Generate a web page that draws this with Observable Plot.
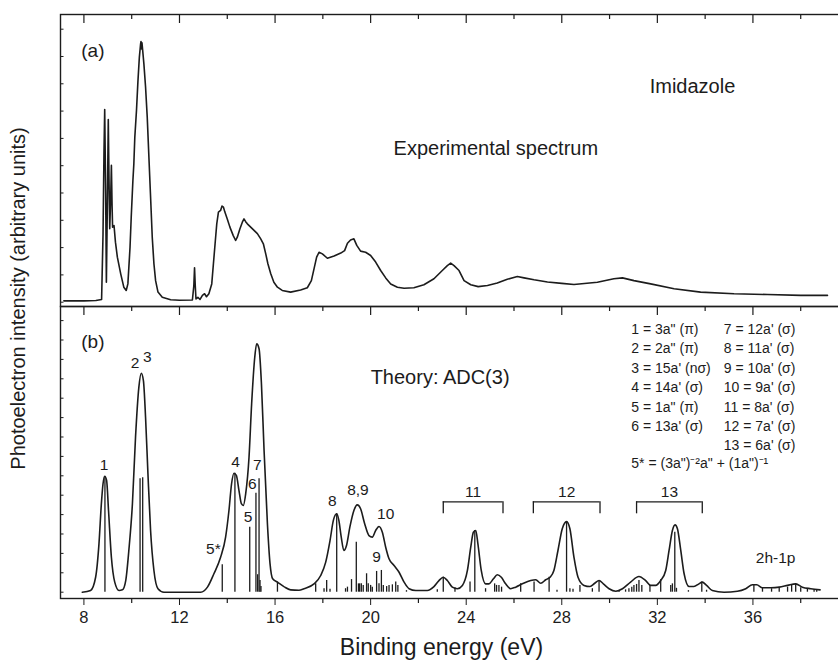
<!DOCTYPE html>
<html><head><meta charset="utf-8">
<script src="https://cdn.jsdelivr.net/npm/d3@7"></script>
<script src="https://cdn.jsdelivr.net/npm/@observablehq/plot@0.6"></script>
<style>
html,body{margin:0;padding:0;background:#fff;overflow:hidden;}
#chart{position:relative;width:838px;height:662px;overflow:hidden;background:#fff;}
#chart svg{display:block;overflow:visible;max-width:none;}
</style></head><body><div id="chart"></div>
<script>
// ---------- data (binding energy in eV, intensities in arbitrary units) ----------
const expE = [7.16,8.0,8.5,8.74,8.8,8.84,8.87,8.91,8.94,8.98,9.02,9.05,9.08,9.12,9.15,9.18,9.2,9.26,9.32,9.40,9.54,9.67,9.77,9.84,9.93,9.98,10.05,10.09,10.13,10.2,10.26,10.32,10.37,10.39,10.41,10.43,10.46,10.51,10.58,10.65,10.72,10.79,10.86,10.93,11.0,11.1,11.28,11.63,12.0,12.54,12.6,12.63,12.66,12.69,12.77,12.86,12.96,13.05,13.13,13.23,13.35,13.42,13.49,13.56,13.63,13.72,13.78,13.84,13.9,14.0,14.11,14.25,14.35,14.42,14.53,14.63,14.7,14.77,14.84,14.98,15.12,15.26,15.4,15.51,15.61,15.7,15.82,15.95,16.1,16.3,16.65,17.07,17.35,17.52,17.63,17.74,17.84,17.98,18.19,18.47,18.75,18.91,19.03,19.16,19.3,19.42,19.58,19.79,20.0,20.21,20.42,20.63,20.84,21.12,21.4,21.81,22.23,22.65,23.0,23.21,23.35,23.49,23.7,23.91,24.19,24.5,24.89,25.3,25.72,26.14,26.42,26.84,27.4,28.0,28.51,29.49,30.18,30.54,31.02,31.72,32.7,33.81,35.21,36.61,38.0,39.12];
const expI = [0.05,0.05,0.06,0.1,2.5,5.5,7.06,4.0,0.73,3.5,6.69,4.5,2.69,3.8,5.01,3.5,2.75,2.81,2.2,1.65,1.04,0.55,0.43,0.67,2.01,3.11,4.46,5.07,6.04,7.02,8.08,8.97,9.44,9.55,9.28,9.5,9.22,8.73,7.88,6.78,5.31,3.85,2.38,1.41,0.79,0.37,0.18,0.09,0.07,0.08,0.6,1.26,0.6,0.12,0.18,0.1,0.25,0.31,0.2,0.31,0.67,1.41,2.14,2.87,3.30,3.36,3.52,3.48,3.3,3.05,2.75,2.44,2.26,2.38,2.69,2.93,3.05,2.95,2.87,2.75,2.63,2.51,2.32,2.14,1.77,1.41,1.04,0.73,0.55,0.43,0.37,0.45,0.53,0.79,1.22,1.65,1.83,1.77,1.61,1.69,1.8,1.89,2.16,2.28,2.32,2.08,1.87,1.83,1.71,1.47,1.16,0.89,0.67,0.55,0.51,0.53,0.64,0.86,1.16,1.34,1.43,1.34,1.16,0.79,0.64,0.57,0.61,0.7,0.84,0.94,0.89,0.82,0.74,0.69,0.65,0.73,0.86,0.89,0.79,0.67,0.49,0.37,0.31,0.28,0.25,0.25];

const thE = [7.93,8.28,8.49,8.63,8.73,8.8,8.87,8.95,9.03,9.15,9.29,9.47,9.61,9.75,9.88,10.03,10.16,10.3,10.4,10.49,10.58,10.68,10.79,10.93,11.1,11.35,12.89,13.17,13.44,13.72,13.93,14.07,14.18,14.28,14.38,14.49,14.59,14.67,14.77,14.91,15.02,15.15,15.23,15.33,15.43,15.54,15.68,15.79,15.9,16.1,16.37,16.65,17.0,17.21,17.63,17.91,18.12,18.3,18.44,18.58,18.67,18.77,18.88,18.99,19.13,19.3,19.44,19.58,19.75,19.93,20.07,20.21,20.35,20.49,20.63,20.77,20.98,21.19,21.4,21.61,21.89,22.37,22.65,22.86,23.04,23.21,23.42,23.63,23.84,24.05,24.19,24.3,24.4,24.49,24.63,24.81,24.95,25.14,25.3,25.47,25.65,25.86,26.07,26.35,26.7,26.91,27.12,27.33,27.51,27.67,27.84,28.02,28.2,28.34,28.51,28.68,28.93,29.18,29.38,29.56,29.74,29.98,30.26,30.54,30.88,31.23,31.51,31.72,31.93,32.14,32.35,32.49,32.63,32.74,32.84,32.98,33.12,33.33,33.53,33.74,33.88,34.06,34.3,34.79,35.35,35.7,35.98,36.16,36.4,36.75,37.1,37.45,37.79,38.07,38.42,38.81];
const thI = [0,0.09,0.77,2.49,4.55,5.59,5.98,5.76,4.21,1.8,0.52,0.09,0.12,0.6,2.15,4.56,7.99,10.57,11.29,10.91,9.02,6.1,3.18,1.12,0.18,0,0,0.26,0.95,1.8,2.84,4.21,5.59,6.13,6.02,5.24,4.56,4.47,5.07,6.96,9.71,12.11,12.8,12.55,10.74,7.3,3.53,1.46,0.69,0.52,0.29,0.12,0.1,0.18,0.43,0.86,1.55,2.66,3.7,4.04,3.7,2.84,2.15,2.41,3.35,4.21,4.5,4.3,3.53,2.92,2.84,3.18,3.39,3.09,2.32,1.72,1.38,1.03,0.52,0.18,0.09,0.09,0.29,0.6,0.77,0.6,0.26,0.18,0.35,1.12,2.32,3.09,3.18,2.49,1.12,0.43,0.43,0.69,0.9,0.77,0.43,0.18,0.26,0.43,0.6,0.64,0.46,0.64,0.77,1.12,2.15,3.27,3.64,3.27,1.8,0.77,0.35,0.29,0.46,0.6,0.43,0.18,0.05,0.18,0.52,0.81,0.6,0.35,0.35,0.6,1.12,2.15,3.18,3.47,3.27,2.15,0.95,0.29,0.29,0.43,0.52,0.35,0.09,0,0.05,0.18,0.38,0.38,0.23,0.23,0.26,0.35,0.43,0.26,0.18,0.12];

const stickE = [8.88,10.35,10.46,13.79,14.32,14.94,15.2,15.27,15.33,15.37,15.41,16.1,17.7,18.05,18.16,18.3,18.58,18.95,19.03,19.2,19.4,19.49,19.54,19.61,19.69,19.83,19.9,20.0,20.07,20.25,20.35,20.45,20.53,20.67,20.77,20.91,21.05,21.14,21.5,22.79,23.04,23.53,24.16,24.36,24.81,25.19,25.27,25.37,25.48,26.28,26.84,27.47,27.8,28.2,28.34,28.47,28.76,29.28,29.56,30.4,30.67,30.81,30.93,31.02,31.13,31.23,31.35,31.69,32.14,32.56,32.63,32.73,32.8,33.3,33.86,34.06,36.04,36.4,36.78,37.1,37.45,37.62,37.79,38.0,38.28,38.56,38.67];
const stickH = [5.95,5.85,5.9,1.41,6.13,3.35,5.1,0.9,5.85,0.6,0.3,0.52,0.43,0.18,0.6,0.15,4.04,0.18,0.26,0.65,2.58,0.43,0.43,0.43,0.35,0.95,0.43,0.35,0.26,1.07,0.43,1.12,0.35,0.29,0.35,0.38,0.52,0.35,0.08,0.12,0.77,0.23,0.52,3.18,0.18,0.43,0.35,0.35,0.26,0.43,0.52,0.77,0.1,3.64,0.18,0.15,0.35,0.18,0.6,0.08,0.12,0.18,0.26,0.35,0.4,0.6,0.35,0.35,0.64,0.35,0.43,3.09,0.2,0.08,0.52,0.1,0.35,0.23,0.18,0.23,0.26,0.35,0.43,0.23,0.18,0.12,0.12];

const majorTicks = [8,12,16,20,24,28,32,36];
const minorTicks = [10,14,18,22,26,30,34,38];
const yTicksA = [0,1,2,3,4,5,6,7,8,9,10];
const yTicksB = [0,1,2,3,4,5,6,7,8,9,10,11,12,13,14];

// peak assignments in panel (b)
const peakText = ["1","2","3","4","5","6","7","5*","8","8,9","10","9","2h-1p"];
const peakE    = [8.84,10.14,10.65,14.35,14.87,15.05,15.26,13.42,18.4,19.47,20.63,20.25,36.95];
const peakY    = [6.58,11.82,12.11,6.7,3.87,5.59,6.58,2.24,4.68,5.29,4.04,1.8,1.77];

// brackets over satellite groups
const brText  = ["11","12","13"];
const brStart = [23.04,26.81,31.13];
const brEnd   = [25.54,29.6,33.88];
const brTop = 4.66, brFoot = 4.04, brLabelY = 5.16;

// legend lines
const legendLeft  = ["1 = 3a\" (π)","2 = 2a\" (π)","3 = 15a' (nσ)","4 = 14a' (σ)","5 = 1a\" (π)","6 = 13a' (σ)"];
const legendRight = ["7 = 12a' (σ)","8 = 11a' (σ)","9 = 10a' (σ)","10 = 9a' (σ)","11 = 8a' (σ)","12 = 7a' (σ)","13 = 6a' (σ)"];
const legendExtra = "5* = (3a\")⁻²a\" + (1a\")⁻¹";
const legendRowsY = [13.53,12.55,11.55,10.54,9.54,8.54,7.56,6.62];

// ---------- layout ----------
const INK = "#1c1c1c";
const FONT = "'Liberation Sans', Arial, Helvetica, sans-serif";
const W = 850, ML = 60, MR = 2, PH = 292;
const xDomain = [7.02, 40];
const PW = W - ML - MR;

const expData = expE.map((e, i) => ({e, v: expI[i]}));
const thData = thE.map((e, i) => ({e, v: thI[i]}));
const sticks = stickE.map((e, i) => ({e, h: stickH[i]}));
const peaks = peakText.map((t, i) => ({t, e: peakE[i], y: peakY[i]}));
const brackets = brText.map((t, i) => ({t, a: brStart[i], b: brEnd[i]}));
const legs = brackets.flatMap(d => [d.a, d.b]);
const legL = legendLeft.map((t, i) => ({t, y: legendRowsY[i]}));
const legR = legendRight.map((t, i) => ({t, y: legendRowsY[i]}));

const topTicks = () => [
  Plot.tickX(majorTicks, {x: d => d, stroke: INK, strokeWidth: 1.2, insetBottom: PH - 9}),
  Plot.tickX(minorTicks, {x: d => d, stroke: INK, strokeWidth: 1.2, insetBottom: PH - 5})
];

const panelA = Plot.plot({
  width: W, height: 14 + PH, marginTop: 14, marginBottom: 0, marginLeft: ML, marginRight: MR,
  x: {domain: xDomain, axis: null},
  y: {domain: [-0.1575, 10.538], axis: null},
  style: {fontFamily: FONT, fontSize: "16px", color: INK, background: "transparent", overflow: "visible", maxWidth: "none"},
  marks: [
    Plot.line(expData, {x: "e", y: "v", stroke: INK, strokeWidth: 1.6}),
    ...topTicks(),
    Plot.tickY(yTicksA, {y: d => d, stroke: INK, strokeWidth: 1, insetRight: PW - 3.5}),
    Plot.frame({stroke: INK, strokeWidth: 1.4}),
    Plot.text(["(a)"], {x: 7.89, y: 9.22, text: d => d, textAnchor: "start", fontSize: 19, fill: INK}),
    Plot.text(["Experimental spectrum"], {x: 20.96, y: 5.62, text: d => d, textAnchor: "start", fontSize: 20, fill: INK}),
    Plot.text(["Imidazole"], {x: 31.68, y: 7.9, text: d => d, textAnchor: "start", fontSize: 20, fill: INK})
  ]
});

const panelB = Plot.plot({
  width: W, height: PH + 64, marginTop: 0, marginBottom: 64, marginLeft: ML, marginRight: MR,
  x: {domain: xDomain, ticks: majorTicks, tickSize: 7, tickPadding: 6, tickFormat: d => String(d), label: null},
  y: {domain: [-0.325, 14.727], axis: null},
  style: {fontFamily: FONT, fontSize: "16.5px", color: INK, background: "transparent", overflow: "visible", maxWidth: "none"},
  marks: [
    Plot.ruleX(sticks, {x: "e", y1: 0, y2: "h", stroke: INK, strokeWidth: 1.3}),
    Plot.line(thData, {x: "e", y: "v", stroke: INK, strokeWidth: 1.6, curve: "monotone-x"}),
    ...topTicks(),
    Plot.tickX(minorTicks, {x: d => d, stroke: INK, strokeWidth: 1.2, insetTop: PH, insetBottom: -5}),
    Plot.tickY(yTicksB, {y: d => d, stroke: INK, strokeWidth: 1, insetRight: PW - 3.5}),
    Plot.frame({stroke: INK, strokeWidth: 1.4}),
    Plot.text(["(b)"], {x: 7.89, y: 12.89, text: d => d, textAnchor: "start", fontSize: 19, fill: INK}),
    Plot.text(["Theory: ADC(3)"], {x: 20.0, y: 11.07, text: d => d, textAnchor: "start", fontSize: 20, fill: INK}),
    Plot.text(peaks, {x: "e", y: "y", text: "t", fontSize: 15.5, fill: INK}),
    Plot.ruleY(brackets, {y: brTop, x1: "a", x2: "b", stroke: INK, strokeWidth: 1.3}),
    Plot.ruleX(legs, {x: d => d, y1: brFoot, y2: brTop, stroke: INK, strokeWidth: 1.3}),
    Plot.text(brackets, {x: d => (d.a + d.b) / 2, y: brLabelY, text: "t", fontSize: 15.5, fill: INK}),
    Plot.text(legL, {x: 30.91, y: "y", text: "t", textAnchor: "start", fontSize: 14, fill: INK}),
    Plot.text(legR, {x: 34.78, y: "y", text: "t", textAnchor: "start", fontSize: 14, fill: INK}),
    Plot.text([legendExtra], {x: 30.91, y: legendRowsY[7], text: d => d, textAnchor: "start", fontSize: 14, fill: INK}),
    Plot.text(["Binding energy (eV)"], {frameAnchor: "bottom", lineAnchor: "middle", dx: -13, dy: 49, text: d => d, fontSize: 23, fill: INK}),
    Plot.text(["Photoelectron intensity (arbitrary units)"], {frameAnchor: "top-left", textAnchor: "middle", lineAnchor: "middle", dx: -42, dy: -8, rotate: -90, text: d => d, fontSize: 20, fill: INK})
  ]
});

const host = document.getElementById("chart");
host.appendChild(panelA);
host.appendChild(panelB);
</script></body></html>
